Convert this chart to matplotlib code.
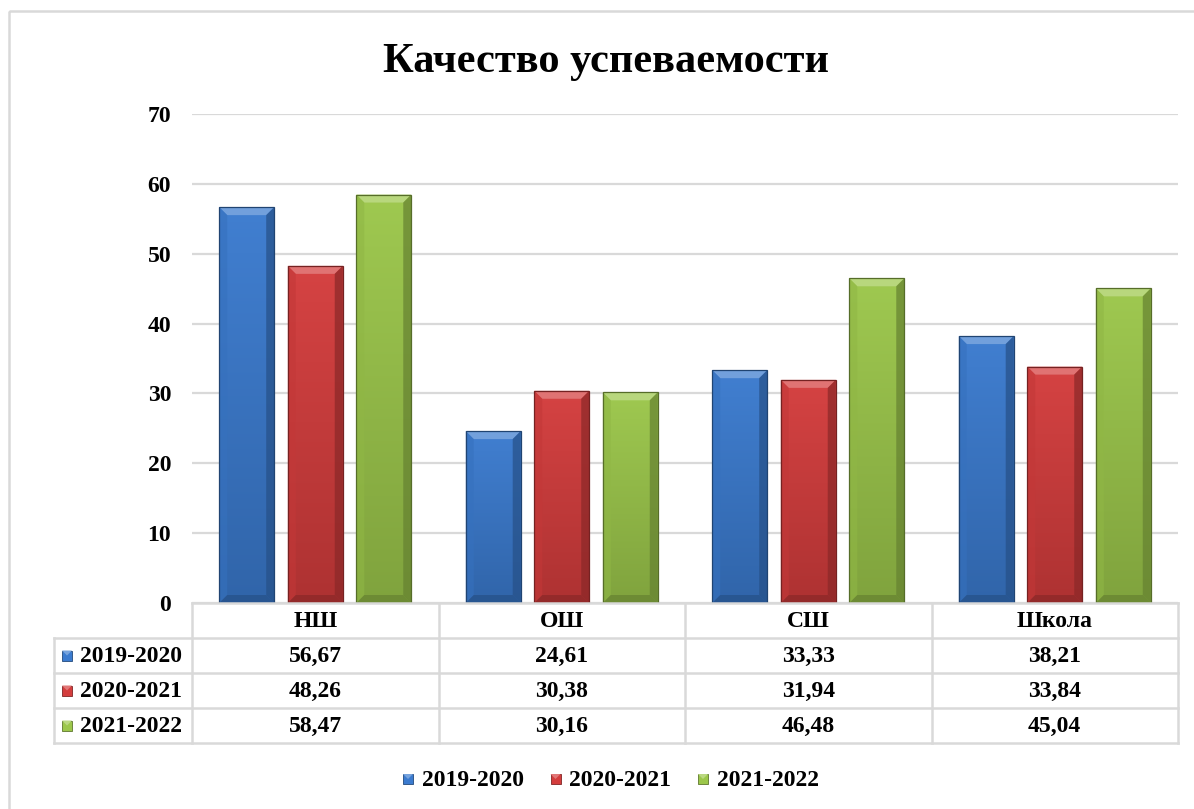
import numpy as np
import matplotlib
matplotlib.use("Agg")
import matplotlib.pyplot as plt
from matplotlib.patches import Rectangle, Polygon
from matplotlib.colors import to_rgb, LinearSegmentedColormap

# ---------------- data ----------------
categories = ["НШ", "ОШ", "СШ", "Школа"]
series_names = ["2019-2020", "2020-2021", "2021-2022"]
v_2019_2020 = [56.67, 24.61, 33.33, 38.21]
v_2020_2021 = [48.26, 30.38, 31.94, 33.84]
v_2021_2022 = [58.47, 30.16, 46.48, 45.04]
yticks = [0, 10, 20, 30, 40, 50, 60, 70]
title = "Качество успеваемости"

series_values = [v_2019_2020, v_2020_2021, v_2021_2022]
colors = ["#3B7BCF", "#D43D3D", "#9CC74B"]

FONT = "Liberation Serif"
W, H = 1194, 809
L, R, B0, T70 = 192, 1178, 603, 114

def blend(c, other, t):
    c = np.array(to_rgb(c)); o = np.array(to_rgb(other))
    return tuple(c * (1 - t) + o * t)

fig = plt.figure(figsize=(W / 100, H / 100), dpi=100)
fig.patch.set_facecolor("white")

# outer chart border (left/top visible)
bax = fig.add_axes([0, 0, 1, 1], zorder=0)
bax.set_xlim(0, W); bax.set_ylim(H, 0); bax.axis("off")
bax.add_patch(Rectangle((9, 11), W + 20, H + 20, fill=False, ec="#D9D9D9", lw=1.8))

ax = fig.add_axes([L / W, 1 - B0 / H, (R - L) / W, (B0 - T70) / H], zorder=2)
ax.patch.set_alpha(0)
for s in ax.spines.values():
    s.set_visible(False)
ax.set_yticks(yticks)
ax.set_yticklabels([str(t) for t in yticks], fontfamily=FONT, fontweight="bold", fontsize=17)
ax.set_xticks([])
ax.tick_params(axis="y", length=0, pad=15)
ax.yaxis.grid(True, color="#D9D9D9", lw=1.6, zorder=0)
ax.set_axisbelow(True)

x = np.arange(len(categories))
bw = 0.223
offsets = [-0.278, 0.0, 0.278]
dx = 8 * (len(categories)) / (R - L)
dy = 8 * 70 / (B0 - T70)

for vals, c, off in zip(series_values, colors, offsets):
    bars = ax.bar(x + off, vals, width=bw, color=c, zorder=3, lw=0)
    cmap = LinearSegmentedColormap.from_list("g", [blend(c, "black", 0.18), blend(c, "white", 0.03)])
    for b in bars:
        x0, y0 = b.get_x(), b.get_y()
        x1, y1 = x0 + b.get_width(), y0 + b.get_height()
        im = ax.imshow(np.linspace(0, 1, 256).reshape(-1, 1), cmap=cmap,
                       extent=[x0, x1, y0, y1], aspect="auto", origin="lower",
                       zorder=3.1, interpolation="bilinear")
        im.set_clip_path(b)
        top = Polygon([(x0, y1), (x1, y1), (x1 - dx, y1 - dy), (x0 + dx, y1 - dy)],
                      closed=True, fc=blend(c, "white", 0.28), ec="none", zorder=3.2)
        left = Polygon([(x0, y0), (x0, y1), (x0 + dx, y1 - dy), (x0 + dx, y0 + dy)],
                       closed=True, fc=blend(c, "black", 0.08), ec="none", zorder=3.2, alpha=0.6)
        right = Polygon([(x1, y0), (x1, y1), (x1 - dx, y1 - dy), (x1 - dx, y0 + dy)],
                        closed=True, fc=blend(c, "black", 0.35), ec="none", zorder=3.2, alpha=0.7)
        bot = Polygon([(x0, y0), (x1, y0), (x1 - dx, y0 + dy), (x0 + dx, y0 + dy)],
                      closed=True, fc=blend(c, "black", 0.35), ec="none", zorder=3.2, alpha=0.7)
        for p in (top, left, right, bot):
            ax.add_patch(p)
        ax.add_patch(Rectangle((x0, y0), x1 - x0, y1 - y0, fill=False,
                               ec=blend(c, "black", 0.45), lw=0.9, zorder=3.3))

ax.set_xlim(-0.5, len(categories) - 0.5)
ax.set_ylim(0, 70)

# title
fig.text(606 / W, 1 - 62 / H, title, ha="center", va="center",
         fontfamily=FONT, fontweight="bold", fontsize=30.5)

# ---------------- data table ----------------
tax = fig.add_axes([0, 0, 1, 1], zorder=5)
tax.set_xlim(0, W); tax.set_ylim(H, 0); tax.axis("off"); tax.patch.set_alpha(0)
gc = "#D9D9D9"
row_edges = [603, 638, 673, 708, 743]
cw = (R - L) / len(categories)
col_edges = [L + i * cw for i in range(len(categories) + 1)]
TL = 54
tax.plot([L, R], [row_edges[0]] * 2, color=gc, lw=1.8)
for y in row_edges[1:]:
    tax.plot([TL, R], [y, y], color=gc, lw=1.8)
tax.plot([TL, TL], [row_edges[1], row_edges[-1]], color=gc, lw=1.8)
for xe in col_edges:
    tax.plot([xe, xe], [row_edges[0], row_edges[-1]], color=gc, lw=1.8)

fs = 17
for i, cat in enumerate(categories):
    cx = (col_edges[i] + col_edges[i + 1]) / 2
    tax.text(cx, (row_edges[0] + row_edges[1]) / 2 + 1, cat, ha="center", va="center",
             fontfamily=FONT, fontweight="bold", fontsize=fs)
    for r, vals in enumerate(series_values):
        cy = (row_edges[r + 1] + row_edges[r + 2]) / 2 + 1
        tax.text(cx, cy, f"{vals[i]:.2f}".replace(".", ","), ha="center", va="center",
                 fontfamily=FONT, fontweight="bold", fontsize=fs)

def marker(xl, yc, c, s=10):
    tax.add_patch(Rectangle((xl, yc - s / 2), s, s, fc=c, ec=blend(c, "black", 0.4), lw=0.6))
    tax.add_patch(Polygon([(xl, yc - s / 2), (xl + s, yc - s / 2), (xl + s / 2, yc)],
                          closed=True, fc=blend(c, "white", 0.3), ec="none"))

for r, (name, c) in enumerate(zip(series_names, colors)):
    cy = (row_edges[r + 1] + row_edges[r + 2]) / 2
    marker(62, cy, c)
    tax.text(80, cy + 1, name, ha="left", va="center",
             fontfamily=FONT, fontweight="bold", fontsize=fs)

# ---------------- legend ----------------
ly = 779
for k, (name, c) in enumerate(zip(series_names, colors)):
    xs = 403 + k * 147.5
    marker(xs, ly, c)
    tax.text(xs + 19, ly + 1, name, ha="left", va="center",
             fontfamily=FONT, fontweight="bold", fontsize=fs)

fig.savefig("out.png", dpi=100, facecolor="white")
